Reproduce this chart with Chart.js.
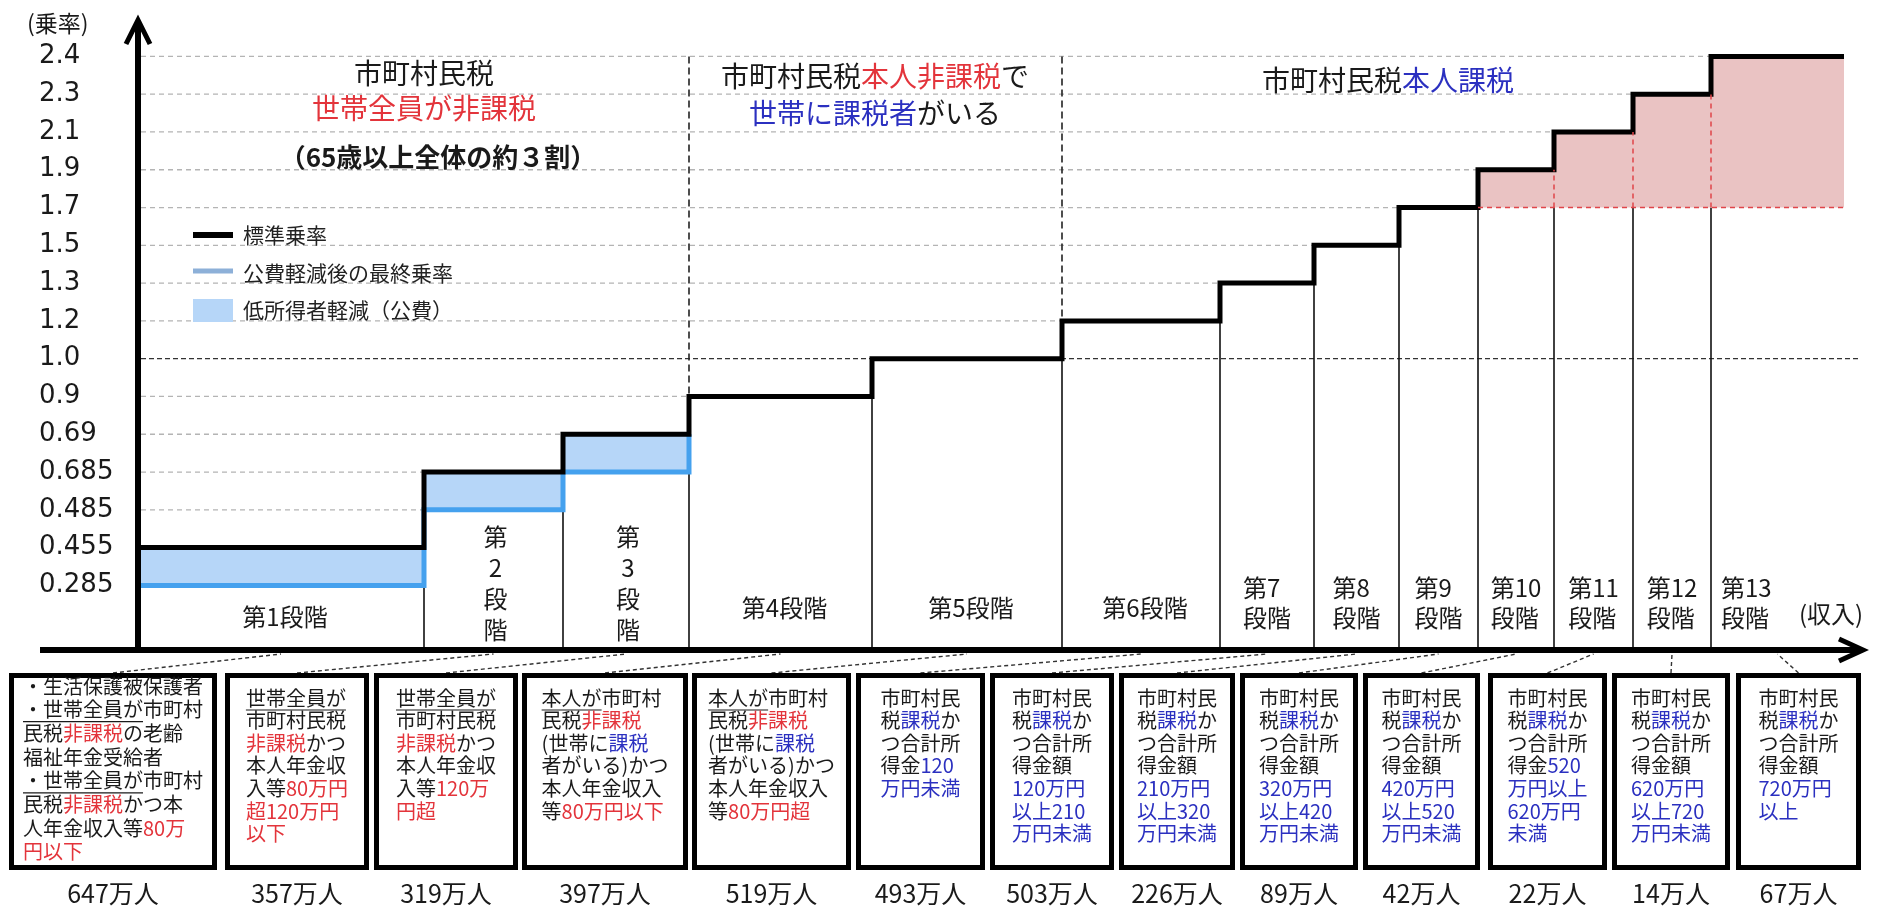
<!DOCTYPE html>
<html lang="ja">
<head>
<meta charset="utf-8">
<title>所得段階別の保険料乗率</title>
<script src="https://cdn.jsdelivr.net/npm/chart.js@4.4.1/dist/chart.umd.min.js"></script>
<style>
  html, body { margin: 0; padding: 0; background: #fff; overflow: hidden; }
</style>
</head>
<body>
<canvas id="mycanvas" width="1877" height="907"></canvas>
<script>
// y axis: 乗率 tick labels (drawn evenly spaced, as in the original)
var rateTicks = ['0.285', '0.455', '0.485', '0.685', '0.69', '0.9', '1.0', '1.2', '1.3', '1.5', '1.7', '1.9', '2.1', '2.3', '2.4'];

var stages = ['第1段階', '第2段階', '第3段階', '第4段階', '第5段階', '第6段階', '第7段階',
              '第8段階', '第9段階', '第10段階', '第11段階', '第12段階', '第13段階'];
// stage boundaries on the (収入) axis
var stageBounds = [0, 28.6, 42.5, 55.1, 73.4, 92.4, 108.2, 117.6, 126.1, 134.0, 141.6, 149.5, 157.3, 170.6];
var standardRate = [0.455, 0.685, 0.69, 0.9, 1.0, 1.2, 1.3, 1.5, 1.7, 1.9, 2.1, 2.3, 2.4];
var reducedRate = [0.285, 0.485, 0.685];   // 公費軽減後（第1〜3段階）
var population = [647, 357, 319, 397, 519, 493, 503, 226, 89, 42, 22, 14, 67];   // 万人

var groupTitles = [
  ['市町村民税', '{r:世帯全員が非課税}', '{B:（65歳以上全体の約３割）}'],
  ['市町村民税{r:本人非課税}で', '{b:世帯に課税者}がいる'],
  ['市町村民税{b:本人課税}']
];

var stageConditions = [
  ['・生活保護被保護者', '{u:・世帯全員が}市町村', '民税{r:非課税}の老齢', '福祉年金受給者', '{u:・世帯全員が}市町村', '民税{r:非課税}かつ本', '人年金収入等{r:80万}', '{r:円以下}'],
  ['{u:世帯全員が}', '市町村民税', '{r:非課税}かつ', '本人年金収', '入等{r:80万円}', '{r:超120万円}', '{r:以下}'],
  ['{u:世帯全員が}', '市町村民税', '{r:非課税}かつ', '本人年金収', '入等{r:120万}', '{r:円超}'],
  ['{u:本人が}市町村', '民税{r:非課税}', '(世帯に{b:課税}', '者がいる)かつ', '本人年金収入', '等{r:80万円以下}'],
  ['{u:本人が}市町村', '民税{r:非課税}', '(世帯に{b:課税}', '者がいる)かつ', '本人年金収入', '等{r:80万円超}'],
  ['市町村民', '税{b:課税}か', 'つ合計所', '得金{b:120}', '{b:万円未満}'],
  ['市町村民', '税{b:課税}か', 'つ合計所', '得金額', '{b:120万円}', '{b:以上210}', '{b:万円未満}'],
  ['市町村民', '税{b:課税}か', 'つ合計所', '得金額', '{b:210万円}', '{b:以上320}', '{b:万円未満}'],
  ['市町村民', '税{b:課税}か', 'つ合計所', '得金額', '{b:320万円}', '{b:以上420}', '{b:万円未満}'],
  ['市町村民', '税{b:課税}か', 'つ合計所', '得金額', '{b:420万円}', '{b:以上520}', '{b:万円未満}'],
  ['市町村民', '税{b:課税}か', 'つ合計所', '得金{b:520}', '{b:万円以上}', '{b:620万円}', '{b:未満}'],
  ['市町村民', '税{b:課税}か', 'つ合計所', '得金額', '{b:620万円}', '{b:以上720}', '{b:万円未満}'],
  ['市町村民', '税{b:課税}か', 'つ合計所', '得金額', '{b:720万円}', '{b:以上}']
];

var legendItems = ['標準乗率', '公費軽減後の最終乗率', '低所得者軽減（公費）'];

var FONT = '"Noto Sans CJK JP"';
var COLORS = { k: '#1a1a1a', r: '#e3343b', b: '#2b30c0', u: '#1a1a1a', B: '#1a1a1a' };

function idx(v) {
  return rateTicks.findIndex(function (t) { return Math.abs(parseFloat(t) - v) < 1e-9; });
}

// one point at the left edge of each stage, plus the right edge of the last one
function stepPoints(bounds, rates) {
  var pts = [];
  for (var i = 0; i < rates.length; i++) pts.push({ x: bounds[i], y: idx(rates[i]) });
  pts.push({ x: bounds[rates.length], y: idx(rates[rates.length - 1]) });
  return pts;
}

var pinkBase = standardRate[8];
var stdPts = stepPoints(stageBounds, standardRate);
var redPts = stepPoints(stageBounds, reducedRate);
redPts.push({ x: stageBounds[3], y: idx(standardRate[2]) });
var coverPts = stepPoints(stageBounds, standardRate.slice(0, 3));
var pinkPts = stepPoints(stageBounds.slice(9), standardRate.slice(9));

function parseRich(s) {
  var out = [], re = /\{([rbuB]):([^}]*)\}|([^{]+)/g, m;
  while ((m = re.exec(s))) {
    if (m[3]) out.push({ t: m[3], s: 'k' });
    else out.push({ t: m[2], s: m[1] });
  }
  return out;
}
function fontFor(style, size) { return (style === 'B' ? 'bold ' : '') + size + 'px ' + FONT; }
function richWidth(ctx, segs, size) {
  var w = 0;
  segs.forEach(function (g) { ctx.font = fontFor(g.s, size); w += ctx.measureText(g.t).width; });
  return w;
}
function drawRich(ctx, segs, x, y, size) {
  segs.forEach(function (g) {
    ctx.font = fontFor(g.s, size);
    ctx.fillStyle = COLORS[g.s];
    ctx.fillText(g.t, x, y);
    var w = ctx.measureText(g.t).width;
    if (g.s === 'u') {
      ctx.strokeStyle = COLORS.u; ctx.lineWidth = 1.2; ctx.setLineDash([]);
      ctx.beginPath(); ctx.moveTo(x, y + size * 0.6); ctx.lineTo(x + w, y + size * 0.6); ctx.stroke();
    }
    x += w;
  });
}
function line(ctx, x1, y1, x2, y2, color, width, dash) {
  ctx.save();
  ctx.strokeStyle = color; ctx.lineWidth = width; ctx.setLineDash(dash || []);
  ctx.beginPath(); ctx.moveTo(x1, y1); ctx.lineTo(x2, y2); ctx.stroke();
  ctx.restore();
}

var whiteBg = {
  id: 'whiteBg',
  beforeDraw: function (chart) {
    var c = chart.ctx;
    c.save(); c.fillStyle = '#fff'; c.fillRect(0, 0, chart.width, chart.height); c.restore();
  }
};

var decor = {
  id: 'decor',
  beforeDatasetsDraw: function (chart) {
    var c = chart.ctx, xs = chart.scales.x, ys = chart.scales.y;
    var X = function (v) { return xs.getPixelForValue(v); };
    var Y = function (r) { return ys.getPixelForValue(idx(r)); };
    var x0 = X(0), axisY = chart.chartArea.bottom;

    // grid lines run from the axis to where the standard step reaches them
    rateTicks.forEach(function (t) {
      var v = parseFloat(t), y = Y(v);
      if (v === 1.0) {
        line(c, x0 + 3, y, chart.chartArea.right - 4, y, '#333', 1.4, [5, 3]);
        return;
      }
      var i = standardRate.findIndex(function (r) { return r >= v - 1e-9; });
      var xe = X(stageBounds[i]);
      if (xe > x0 + 5) line(c, x0 + 3, y, xe, y, '#b4b4b4', 1.3, [5, 4]);
    });

    // group separators
    [3, 5].forEach(function (i) {
      line(c, X(stageBounds[i]), Y(2.4), X(stageBounds[i]), Y(standardRate[i]), '#222', 1.6, [7, 4]);
    });

    // thin stage boundaries
    for (var i = 1; i < standardRate.length; i++) {
      var lv = [standardRate[i - 1], standardRate[i]];
      if (i - 1 < reducedRate.length) lv.push(reducedRate[i - 1]);
      if (i < reducedRate.length) lv.push(reducedRate[i]);
      var low = Math.min.apply(null, lv);
      if (i > 9) low = Math.min(low, pinkBase);
      line(c, X(stageBounds[i]), axisY, X(stageBounds[i]), Y(low), '#111', 1.6);
    }
  },
  afterDatasetsDraw: function (chart) {
    var c = chart.ctx, xs = chart.scales.x, ys = chart.scales.y;
    var X = function (v) { return xs.getPixelForValue(v); };
    var Y = function (r) { return ys.getPixelForValue(idx(r)); };
    var x0 = X(0), axisY = chart.chartArea.bottom;
    var i, j;

    // red dashed outline of the upper stages
    line(c, X(stageBounds[9]), Y(pinkBase), X(stageBounds[13]), Y(pinkBase), '#e0454a', 1.5, [5, 4]);
    for (i = 10; i < 13; i++) {
      line(c, X(stageBounds[i]), Y(pinkBase), X(stageBounds[i]), Y(standardRate[i - 1]), '#e0454a', 1.5, [5, 4]);
    }

    // axes with arrow heads
    c.save();
    c.strokeStyle = '#000'; c.lineWidth = 6; c.lineJoin = 'miter'; c.lineCap = 'butt';
    c.beginPath(); c.moveTo(40, axisY); c.lineTo(chart.chartArea.right - 4, axisY); c.stroke();
    c.beginPath(); c.moveTo(x0, axisY + 3); c.lineTo(x0, 22); c.stroke();
    c.lineWidth = 5;
    c.beginPath(); c.moveTo(x0 - 12, 44); c.lineTo(x0, 20); c.lineTo(x0 + 12, 44); c.stroke();
    var xr = chart.chartArea.right - 2;
    c.beginPath(); c.moveTo(xr - 24, axisY - 11); c.lineTo(xr, axisY); c.lineTo(xr - 24, axisY + 11); c.stroke();
    c.restore();

    c.save();
    c.textBaseline = 'middle';

    // axis titles
    c.fillStyle = '#1a1a1a'; c.textAlign = 'left';
    c.font = '23px ' + FONT;
    c.fillText('(乗率)', 27, 23);
    c.font = '24px ' + FONT;
    c.fillText('(収入)', 1799, 614);

    // stage labels
    var modes = ['h', 'v', 'v', 'h', 'h', 'h', 't', 't', 't', 't', 't', 't', 't'];
    c.font = '24px ' + FONT;
    for (i = 0; i < stages.length; i++) {
      var l = X(stageBounds[i]), r = X(stageBounds[i + 1]), mid = (l + r) / 2;
      var s = stages[i];
      c.fillStyle = '#1a1a1a';
      if (modes[i] === 'h') {
        c.textAlign = 'center';
        c.fillText(s, mid + 4, i === 0 ? 617 : 608);
      } else if (modes[i] === 'v') {
        c.textAlign = 'center';
        var chars = s.split('');
        for (j = 0; j < chars.length; j++) c.fillText(chars[j], mid + 2, 537 + j * 31);
      } else {
        var a = s.replace('段階', ''), b = '段階';
        var w = Math.max(c.measureText(a).width, c.measureText(b).width);
        var left = i === 12 ? l + 10 : mid - w / 2;
        c.textAlign = 'left';
        c.fillText(a, left, 588);
        c.fillText(b, left, 618);
      }
    }

    // group titles
    var titlePos = [[424, [73, 108, 157]], [875, [76, 113]], [1388, [80]]];
    groupTitles.forEach(function (g, gi) {
      g.forEach(function (txt, li) {
        var segs = parseRich(txt);
        var size = segs[0].s === 'B' ? 26 : 28;
        var w = richWidth(c, segs, size);
        var cx = titlePos[gi][0] + (segs[0].s === 'B' ? 14 : 0);
        c.textAlign = 'left';
        drawRich(c, segs, cx - w / 2, titlePos[gi][1][li], size);
      });
    });

    // legend
    line(c, 193, 235, 233, 235, '#000', 6);
    line(c, 193, 271, 233, 271, '#8db0d8', 5);
    c.fillStyle = '#b6d6f8'; c.fillRect(193, 299, 40, 23);
    c.fillStyle = '#222'; c.textAlign = 'left'; c.font = '21px ' + FONT;
    legendItems.forEach(function (t, k) { c.fillText(t, 243, [235, 273, 310][k]); });

    // condition boxes, connectors and head counts
    var boxes = [[9, 217], [225, 369], [374, 518], [522, 688], [692, 851], [856, 985], [990, 1114],
                 [1119, 1235], [1240, 1358], [1363, 1480], [1488, 1607], [1612, 1730], [1736, 1861]];
    var top = 673, bottom = 870;
    for (i = 0; i < boxes.length; i++) {
      var bx = boxes[i][0], bw = boxes[i][1] - boxes[i][0], bc = bx + bw / 2;
      var tierMid = (X(stageBounds[i]) + X(stageBounds[i + 1])) / 2;
      line(c, bc, top, tierMid, axisY + 4, '#333', 1.4, [4, 3]);
      c.save();
      c.strokeStyle = '#000'; c.lineWidth = 5; c.setLineDash([]);
      c.strokeRect(bx + 2.5, top + 2.5, bw - 5, bottom - top - 5);
      c.restore();

      var lines = stageConditions[i].map(parseRich);
      var maxW = 0;
      lines.forEach(function (sg) { maxW = Math.max(maxW, richWidth(c, sg, 20)); });
      var tx = bc - maxW / 2;
      var y0 = i === 0 ? 686 : 698, lh = i === 0 ? 23.7 : 22.6;
      c.textAlign = 'left';
      lines.forEach(function (sg, k) { drawRich(c, sg, tx, y0 + k * lh, 20); });

      c.textAlign = 'center'; c.fillStyle = '#1a1a1a'; c.font = '25px ' + FONT;
      c.fillText(population[i] + '万人', bc, 893);
    }
    c.restore();
  }
};

Chart.defaults.font.family = FONT;
var ctx = document.getElementById('mycanvas');
var stepChart = new Chart(ctx, {
  type: 'line',
  data: {
    datasets: [
      {
        label: '標準乗率', data: stdPts, stepped: true, fill: false,
        borderColor: '#000', borderWidth: 5, borderJoinStyle: 'miter', pointRadius: 0, order: 1
      },
      {
        label: '公費軽減後の最終乗率', data: redPts, stepped: true, fill: false,
        borderColor: '#45a1ee', borderWidth: 5, borderJoinStyle: 'miter', pointRadius: 0, order: 2
      },
      {
        label: '低所得者軽減（公費）', data: coverPts, stepped: true, fill: 1,
        borderColor: 'rgba(0,0,0,0)', borderWidth: 0, backgroundColor: '#b6d6f8', pointRadius: 0, order: 3
      },
      {
        label: '第10段階以上', data: pinkPts, stepped: true, fill: { value: idx(pinkBase) },
        borderColor: 'rgba(0,0,0,0)', borderWidth: 0, backgroundColor: '#eac3c3', pointRadius: 0, order: 4
      }
    ]
  },
  options: {
    responsive: false,
    animation: false,
    devicePixelRatio: 1,
    layout: { padding: { left: 39, right: 12, top: 15, bottom: 257 } },
    plugins: { legend: { display: false }, tooltip: { enabled: false } },
    scales: {
      x: { type: 'linear', min: 0, max: 172.7, display: false },
      y: {
        type: 'linear', min: -1.71, max: 15,
        grid: { display: false }, border: { display: false },
        afterBuildTicks: function (s) { s.ticks = rateTicks.map(function (t, i) { return { value: i }; }); },
        afterFit: function (s) { s.width = 99; },
        ticks: {
          autoSkip: false, crossAlign: 'far', color: '#1a1a1a',
          font: { family: 'DejaVu Sans', size: 26 },
          callback: function (v) { return rateTicks[v]; }
        }
      }
    }
  },
  plugins: [whiteBg, decor]
});
</script>
</body>
</html>
